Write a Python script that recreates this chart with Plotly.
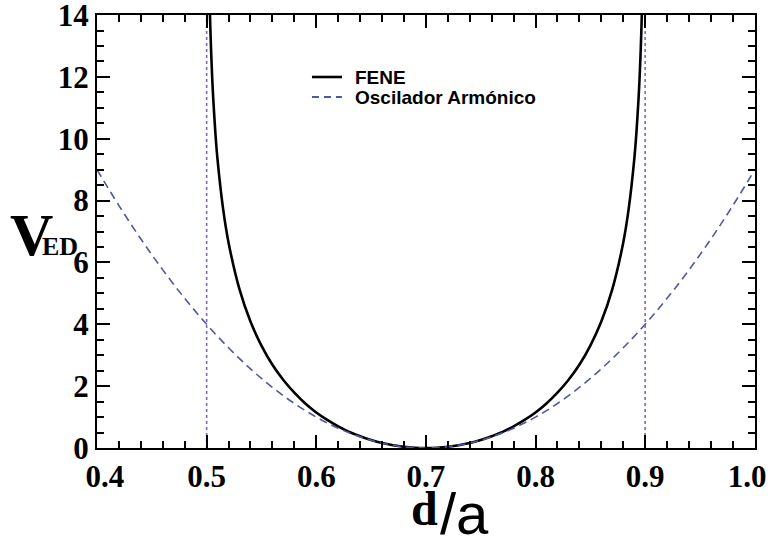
import plotly.graph_objects as go

# ---- data ----
fene_d = [0.502, 0.503, 0.504, 0.505, 0.506, 0.508, 0.510, 0.515, 0.520, 0.530, 0.540, 0.550,
          0.560, 0.570, 0.580, 0.590, 0.600, 0.610, 0.620, 0.630, 0.640, 0.650, 0.660, 0.670,
          0.680, 0.690, 0.700, 0.710, 0.720, 0.730, 0.740, 0.750, 0.760, 0.770, 0.780, 0.790,
          0.800, 0.810, 0.820, 0.830, 0.840, 0.850, 0.860, 0.870, 0.880, 0.885, 0.890, 0.892,
          0.894, 0.895, 0.896, 0.897, 0.898]
fene_v = [15.67, 14.06, 12.92, 12.03, 11.31, 10.18, 9.31, 7.74, 6.64, 5.13, 4.09, 3.31,
          2.69, 2.20, 1.79, 1.44, 1.15, 0.91, 0.70, 0.52, 0.38, 0.26, 0.16, 0.09,
          0.04, 0.01, 0.00, 0.01, 0.04, 0.09, 0.16, 0.26, 0.38, 0.52, 0.70, 0.91,
          1.15, 1.44, 1.79, 2.20, 2.69, 3.31, 4.09, 5.13, 6.64, 7.74, 9.31, 10.18,
          11.31, 12.03, 12.92, 14.06, 15.67]

harm_d = [0.40, 0.42, 0.44, 0.46, 0.48, 0.50, 0.52, 0.54, 0.56, 0.58, 0.60, 0.62, 0.64,
          0.66, 0.68, 0.70, 0.72, 0.74, 0.76, 0.78, 0.80, 0.82, 0.84, 0.86, 0.88, 0.90,
          0.92, 0.94, 0.96, 0.98, 1.00]
harm_v = [9.00, 7.84, 6.76, 5.76, 4.84, 4.00, 3.24, 2.56, 1.96, 1.44, 1.00, 0.64, 0.36,
          0.16, 0.04, 0.00, 0.04, 0.16, 0.36, 0.64, 1.00, 1.44, 1.96, 2.56, 3.24, 4.00,
          4.84, 5.76, 6.76, 7.84, 9.00]

limit_d = [0.5, 0.9]
y_limits = [0, 14]

x_ticks = [0.4, 0.5, 0.6, 0.7, 0.8, 0.9, 1.0]
x_labels = ["&nbsp;&nbsp;0.4", "0.5", "0.6", "0.7", "0.8", "0.9", "1.0&nbsp;&nbsp;"]
y_ticks = [0, 2, 4, 6, 8, 10, 12, 14]
y_labels = ["0", "2", "4", "6", "8", "10", "12", "14"]

series_names = ["FENE", "Oscilador Armónico"]
colors = ["black", "#5158a3"]

# ---- figure ----
fig = go.Figure()

for xd in limit_d:
    fig.add_trace(go.Scatter(x=[xd, xd], y=y_limits, mode="lines", showlegend=False,
                             line=dict(color="#8466c4", width=1.6, dash="dot"),
                             hoverinfo="skip"))

fig.add_trace(go.Scatter(x=fene_d, y=fene_v, mode="lines", name=series_names[0],
                         showlegend=False,
                         line=dict(color=colors[0], width=2.6, shape="spline", smoothing=0.6)))
fig.add_trace(go.Scatter(x=harm_d, y=harm_v, mode="lines", name=series_names[1],
                         showlegend=False,
                         line=dict(color=colors[1], width=1.6, dash="8px,5px", shape="spline")))

serif = "Liberation Serif"
sans = "Liberation Sans"

axis_common = dict(showline=True, linecolor="black", linewidth=2, mirror="allticks",
                   ticks="inside", ticklen=13, tickwidth=2, tickcolor="black",
                   showgrid=False, zeroline=False, ticklabeloverflow="allow",
                   automargin=False,
                   tickfont=dict(family=serif, size=31, color="black", weight="bold"))

fig.update_xaxes(range=[0.4, 1.0002], tickvals=x_ticks, ticktext=x_labels,
                 minor=dict(dtick=0.02, tick0=0.4, ticks="inside", ticklen=7, tickwidth=2,
                            tickcolor="black", showgrid=False),
                 **axis_common)
fig.update_yaxes(range=[0, 14.003], tickvals=y_ticks, ticktext=y_labels,
                 minor=dict(dtick=0.5, tick0=0, ticks="inside", ticklen=7, tickwidth=2,
                            tickcolor="black", showgrid=False),
                 **axis_common)

# manual legend (paper coordinates)
leg_x0, leg_x1, leg_tx = 0.3267, 0.3723, 0.389
leg_y = [0.8568, 0.8106]
shapes = [
    dict(type="line", xref="paper", yref="paper", x0=leg_x0, x1=leg_x1, y0=leg_y[0], y1=leg_y[0],
         line=dict(color=colors[0], width=2.6)),
    dict(type="line", xref="paper", yref="paper", x0=leg_x0, x1=leg_x1, y0=leg_y[1], y1=leg_y[1],
         line=dict(color=colors[1], width=1.8, dash="7px,5px")),
]
annotations = [
    dict(text="<b>%s</b>" % series_names[i], xref="paper", yref="paper", x=leg_tx, y=leg_y[i],
         xanchor="left", yanchor="middle", showarrow=False,
         font=dict(family=sans, size=19, color="black"))
    for i in range(2)
]
annotations += [
    dict(text="<b>d</b>", xref="paper", yref="paper", x=0.4977, y=-0.1386,
         xanchor="center", yanchor="middle", showarrow=False,
         font=dict(family=serif, size=48, color="black")),
    dict(text="/a", xref="paper", yref="paper", x=0.5578, y=-0.1524,
         xanchor="center", yanchor="middle", showarrow=False,
         font=dict(family=sans, size=58, color="black")),
    dict(text="<b>V</b>", xref="paper", yref="paper", x=-0.1003, y=0.4919,
         xanchor="center", yanchor="middle", showarrow=False,
         font=dict(family=serif, size=60, color="black")),
    dict(text="<b>ED</b>", xref="paper", yref="paper", x=-0.0562, y=0.4665,
         xanchor="center", yanchor="middle", showarrow=False,
         font=dict(family=serif, size=26, color="black")),
]

fig.update_layout(
    width=772, height=541,
    margin=dict(l=97, r=17, t=15, b=93, autoexpand=False),
    plot_bgcolor="white", paper_bgcolor="white",
    showlegend=False,
    shapes=shapes,
    annotations=annotations,
)

fig.write_html("out.html")
